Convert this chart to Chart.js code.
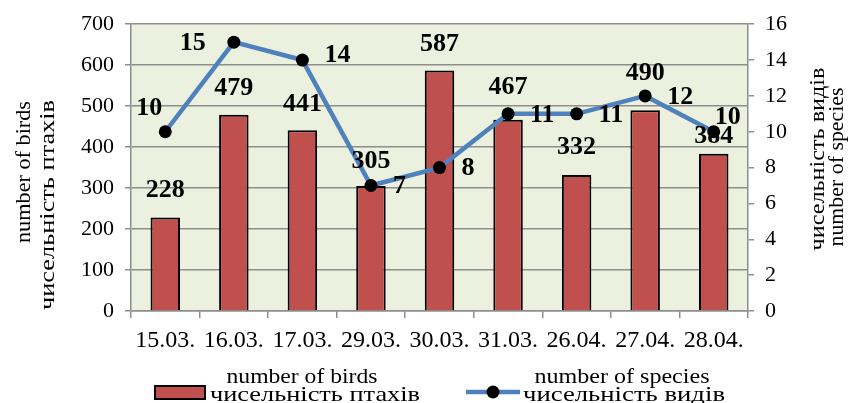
<!DOCTYPE html>
<html>
<head>
<meta charset="utf-8">
<script src="https://cdn.jsdelivr.net/npm/chart.js@4/dist/chart.umd.min.js"></script>
<style>
  html, body { margin: 0; padding: 0; background: #ffffff; }
  #wrap { width: 849px; height: 403px; }
</style>
</head>
<body>
<div id="wrap"><canvas id="chart" width="849" height="403"></canvas></div>
<script>
// Observation dates and counts
const dates = ['15.03.', '16.03.', '17.03.', '29.03.', '30.03.', '31.03.', '26.04.', '27.04.', '28.04.'];
const birdCounts = [228, 479, 441, 305, 587, 467, 332, 490, 384];
const speciesCounts = [10, 15, 14, 7, 8, 11, 11, 12, 10];

// Axis tick values
const birdAxisTicks = [0, 100, 200, 300, 400, 500, 600, 700];
const speciesAxisTicks = [0, 2, 4, 6, 8, 10, 12, 14, 16];

// Titles and legend texts (English / Ukrainian)
const birdTitle = ['number of birds', 'чисельність птахів'];
const speciesTitle = ['чисельність видів', 'number of species'];

// Label placement around the species points, and lift of bar labels
const speciesLabelPlacement = ['upLeft', 'left', 'rightHigh', 'right', 'right', 'right', 'right', 'right', 'upRight'];
const barLabelLift = [27, 26, 26, 25, 26, 32, 28, 37, 17];

const SERIF = "'Liberation Serif', 'Times New Roman', serif";
const BAR_RED = '#c0504d';
const LINE_BLUE = '#4f81bd';
const GRID = '#8e8e8e';
const PLOT_BG = '#ebf1de';

// draw text stretched horizontally to a given run length
function fitText(ctx, txt, x, y, width, align) {
  const natural = ctx.measureText(txt).width;
  const k = width / natural;
  ctx.save();
  ctx.translate(x, y);
  ctx.scale(k, 1);
  ctx.textAlign = align;
  ctx.fillText(txt, 0, 0);
  ctx.restore();
}

function fitVertical(ctx, txt, x, y, width) {
  ctx.save();
  ctx.translate(x, y);
  ctx.rotate(-Math.PI / 2);
  fitText(ctx, txt, 0, 0, width, 'center');
  ctx.restore();
}

const decor = {
  id: 'decor',
  beforeDraw(chart) {
    const { ctx, chartArea: a } = chart;
    ctx.save();
    ctx.fillStyle = PLOT_BG;
    ctx.fillRect(a.left, a.top, a.right - a.left, a.bottom - a.top);
    ctx.restore();
  },
  afterDraw(chart) {
    const ctx = chart.ctx;
    ctx.save();
    ctx.fillStyle = '#000';

    // value labels on the bars
    ctx.font = 'bold 26px ' + SERIF;
    ctx.textAlign = 'center';
    ctx.textBaseline = 'middle';
    chart.getDatasetMeta(1).data.forEach((el, i) => {
      ctx.fillText(String(birdCounts[i]), el.x, el.y - barLabelLift[i]);
    });

    // value labels beside the species points
    chart.getDatasetMeta(0).data.forEach((el, i) => {
      const txt = String(speciesCounts[i]);
      const p = speciesLabelPlacement[i];
      if (p === 'left') {
        ctx.textAlign = 'right';
        ctx.fillText(txt, el.x - 28, el.y + 1);
      } else if (p === 'right') {
        ctx.textAlign = 'left';
        ctx.fillText(txt, el.x + 22, el.y + 1);
      } else if (p === 'rightHigh') {
        ctx.textAlign = 'left';
        ctx.fillText(txt, el.x + 22, el.y - 5);
      } else if (p === 'upLeft') {
        ctx.textAlign = 'center';
        ctx.fillText(txt, el.x - 16, el.y - 23);
      } else {
        ctx.textAlign = 'center';
        ctx.fillText(txt, el.x + 14, el.y - 14);
      }
    });

    // axis titles, both reading bottom to top
    ctx.font = '22px ' + SERIF;
    ctx.textBaseline = 'alphabetic';
    fitVertical(ctx, birdTitle[0], 30, 172, 142);
    fitVertical(ctx, birdTitle[1], 54, 205, 210);
    fitVertical(ctx, speciesTitle[0], 824, 159, 183);
    fitVertical(ctx, speciesTitle[1], 843, 167, 159);

    // legend
    const yTop = 377, yBottom = 395;
    ctx.fillStyle = BAR_RED;
    ctx.fillRect(155, 386, 50, 13);
    ctx.strokeStyle = '#000';
    ctx.lineWidth = 2;
    ctx.strokeRect(155, 386, 50, 13);
    ctx.fillStyle = '#000';
    ctx.textBaseline = 'middle';
    fitText(ctx, birdTitle[0], 302, yTop, 151, 'center');
    fitText(ctx, birdTitle[1], 210, yBottom, 210, 'left');

    ctx.strokeStyle = LINE_BLUE;
    ctx.lineWidth = 4.5;
    ctx.beginPath();
    ctx.moveTo(466, 392);
    ctx.lineTo(520, 392);
    ctx.stroke();
    ctx.fillStyle = '#000';
    ctx.beginPath();
    ctx.arc(493, 392, 6.5, 0, Math.PI * 2);
    ctx.fill();
    fitText(ctx, speciesTitle[1], 622, yTop, 175, 'center');
    fitText(ctx, speciesTitle[0], 523, yBottom, 202, 'left');

    ctx.restore();
  }
};

new Chart(document.getElementById('chart'), {
  data: {
    labels: dates,
    datasets: [
      {
        type: 'line',
        label: speciesTitle[0],
        data: speciesCounts,
        yAxisID: 'y1',
        order: 0,
        borderColor: LINE_BLUE,
        borderWidth: 4.5,
        pointRadius: 6.5,
        pointBackgroundColor: '#000',
        pointBorderColor: '#000',
        pointBorderWidth: 0,
        tension: 0
      },
      {
        type: 'bar',
        label: birdTitle[1],
        data: birdCounts,
        yAxisID: 'y',
        order: 1,
        backgroundColor: BAR_RED,
        borderColor: '#000',
        borderWidth: 2,
        categoryPercentage: 1,
        barPercentage: 0.43
      }
    ]
  },
  options: {
    responsive: false,
    animation: false,
    devicePixelRatio: 1,
    layout: { padding: { top: 22, left: 0, right: 0, bottom: 0 } },
    plugins: {
      legend: { display: false },
      tooltip: { enabled: false }
    },
    scales: {
      x: {
        offset: true,
        grid: { display: true, drawOnChartArea: false, offset: true, tickLength: 7, color: GRID, lineWidth: 1.5 },
        border: { display: true, color: GRID, width: 1.5 },
        ticks: { color: '#000', font: { family: SERIF, size: 24 }, padding: 8, maxRotation: 0, autoSkip: false },
        afterFit(scale) { scale.height = 92; }
      },
      y: {
        position: 'left',
        min: birdAxisTicks[0],
        max: birdAxisTicks[birdAxisTicks.length - 1],
        ticks: { stepSize: birdAxisTicks[1] - birdAxisTicks[0], color: '#000', font: { family: SERIF, size: 22 }, padding: 11 },
        grid: { color: GRID, lineWidth: 1.5, tickLength: 6 },
        border: { display: true, color: GRID, width: 1.5 },
        afterFit(scale) { scale.width = 131; }
      },
      y1: {
        position: 'right',
        min: speciesAxisTicks[0],
        max: speciesAxisTicks[speciesAxisTicks.length - 1],
        ticks: { stepSize: speciesAxisTicks[1] - speciesAxisTicks[0], color: '#000', font: { family: SERIF, size: 22 }, padding: 11 },
        grid: { drawOnChartArea: false, color: GRID, lineWidth: 1.5, tickLength: 6 },
        border: { display: true, color: GRID, width: 1.5 },
        afterFit(scale) { scale.width = 101; }
      }
    }
  },
  plugins: [decor]
});
</script>
</body>
</html>
